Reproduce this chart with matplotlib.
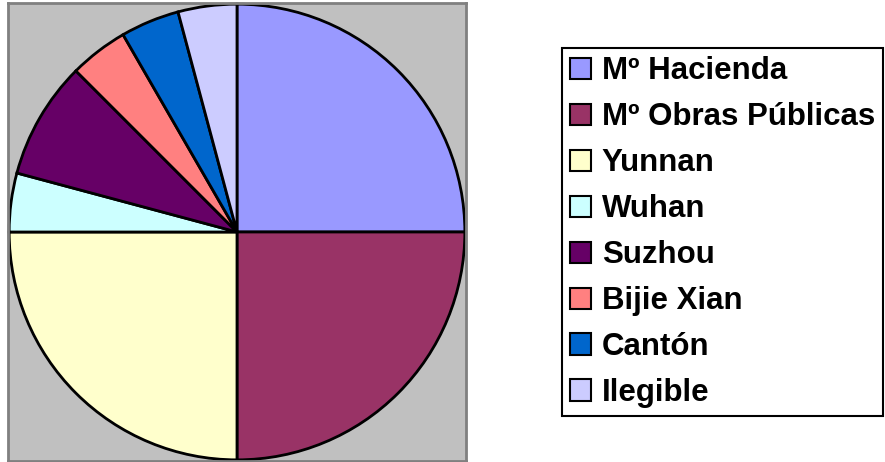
import matplotlib.pyplot as plt
from matplotlib.patches import Patch

labels = ["Mº Hacienda", "Mº Obras Públicas", "Yunnan", "Wuhan",
          "Suzhou", "Bijie Xian", "Cantón", "Ilegible"]
values = [6, 6, 6, 1, 2, 1, 1, 1]
colors = ["#9999FF", "#993366", "#FFFFCC", "#CCFFFF",
          "#660066", "#FF8080", "#0066CC", "#CCCCFF"]

W, H = 885, 462
fig = plt.figure(figsize=(W / 100, H / 100), dpi=100)

# plot area in pixels: x 8..466, y 3..461
ax = fig.add_axes([8 / W, (H - 461) / H, 458 / W, 458 / H])
ax.set_facecolor("#C0C0C0")
for s in ax.spines.values():
    s.set_edgecolor("#808080")
    s.set_linewidth(2)

ax.pie(values, colors=colors, startangle=90, counterclock=False,
       radius=0.995, center=(0, 0), frame=True,
       wedgeprops=dict(edgecolor="black", linewidth=2))
ax.set_xlim(-1, 1)
ax.set_ylim(-1, 1)
ax.set_xticks([])
ax.set_yticks([])

handles = [Patch(facecolor=c, edgecolor="black", linewidth=1.5) for c in colors]
leg = fig.legend(handles, labels, loc="upper left",
                 bbox_to_anchor=(562 / W, (H - 48) / H),
                 prop=dict(family="Liberation Sans", weight="bold", size=22.5),
                 handlelength=0.67, handleheight=0.67, handletextpad=0.33,
                 labelspacing=0.51, borderpad=0.27, borderaxespad=0,
                 fancybox=False, framealpha=1)
leg.get_frame().set_edgecolor("black")
leg.get_frame().set_linewidth(1.5)

fig.savefig("out.png", dpi=100)
